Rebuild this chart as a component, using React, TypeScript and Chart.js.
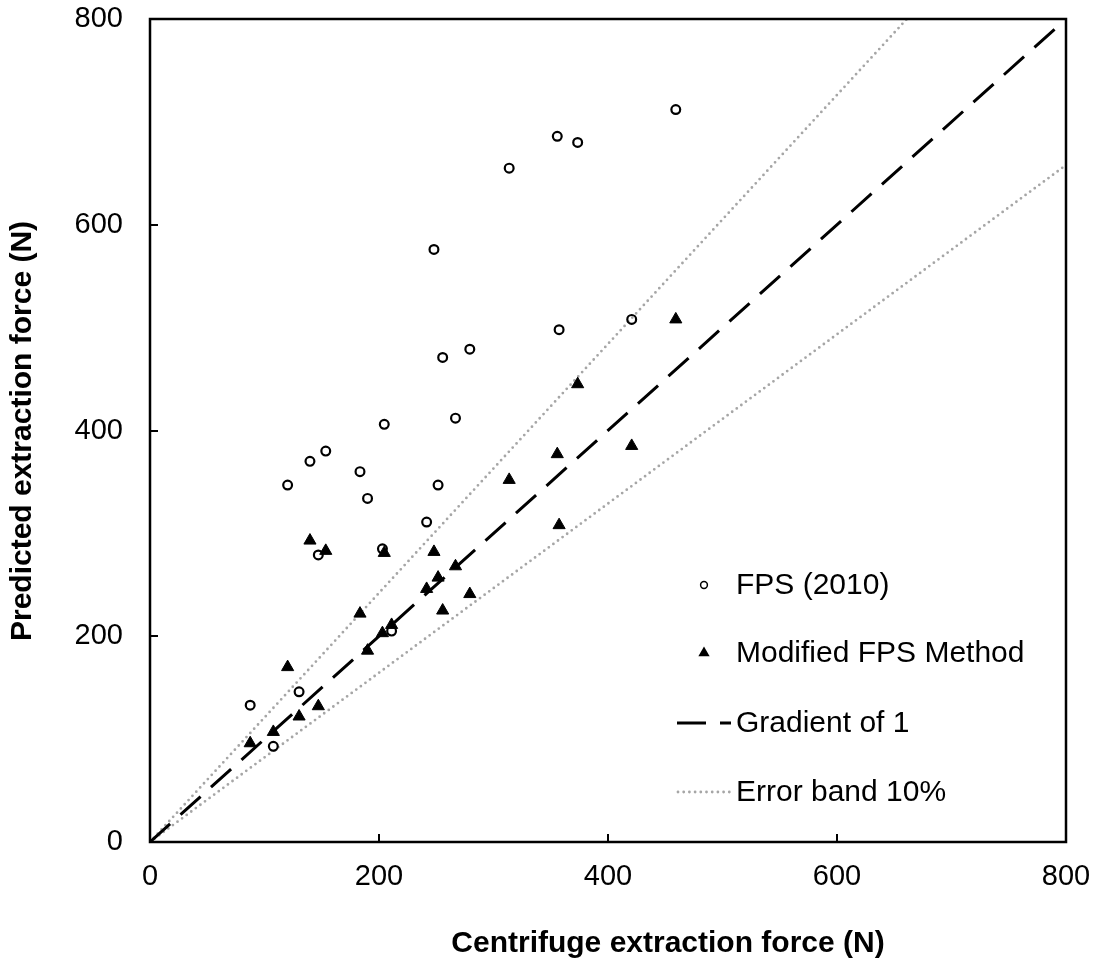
import React, { useEffect, useRef } from "react";
import { Chart, registerables } from "chart.js";

Chart.register(...registerables);

// ---- data ----
const centrifugeForce = [87.5, 107.7, 120.2, 130.2, 139.7, 147, 153.5, 183.4, 190, 203, 204.6, 211, 241.6, 248, 251.6, 255.6, 266.8, 279.3, 313.7, 355.7, 357.3, 373.5, 420.7, 459.2];
const fps2010 = [133, 93, 347, 146, 370, 279, 380, 360, 334, 285, 406, 205, 311, 576, 347, 471, 412, 479, 655, 686, 498, 680, 508, 712];
const modifiedFps = [96, 107, 170, 122, 293, 132, 283, 222, 186, 203, 281, 211, 246, 282, 257, 225, 268, 241, 352, 377, 308, 445, 385, 508];
const gradientLineX = [0, 800];
const gradientLineY = [0, 800];
const upperBandX = [0, 661];
const upperBandY = [0, 800];
const lowerBandX = [0, 800];
const lowerBandY = [0, 658];
const xTickValues = [0, 200, 400, 600, 800];
const yTickValues = [0, 200, 400, 600, 800];
const legendLabels = ["FPS (2010)", "Modified FPS Method", "Gradient of 1", "Error band 10%"];
const xTitle = "Centrifuge extraction force (N)";
const yTitle = "Predicted extraction force (N)";

const FONT = "'Liberation Sans', Arial, Helvetica, sans-serif";
const GREY = "#a6a6a6";

const zip = (xs: number[], ys: number[]) => xs.map((x, i) => ({ x, y: ys[i] }));

const framePlugin = {
  id: "frame",
  afterDraw(chart: any) {
    const { ctx, chartArea: a, scales } = chart;
    ctx.save();
    ctx.strokeStyle = "#000";
    ctx.setLineDash([]);
    // inner ticks
    ctx.lineWidth = 2;
    ctx.beginPath();
    xTickValues.forEach((v) => {
      const px = Math.round(scales.x.getPixelForValue(v));
      ctx.moveTo(px, a.bottom);
      ctx.lineTo(px, a.bottom - 8);
    });
    yTickValues.forEach((v) => {
      const py = Math.round(scales.y.getPixelForValue(v));
      ctx.moveTo(a.left, py);
      ctx.lineTo(a.left + 8, py);
    });
    ctx.stroke();
    // box
    ctx.lineWidth = 2.5;
    ctx.strokeRect(a.left, a.top, a.right - a.left, a.bottom - a.top);

    // axis titles
    ctx.fillStyle = "#000";
    ctx.font = `bold 30px ${FONT}`;
    ctx.textAlign = "center";
    ctx.textBaseline = "middle";
    ctx.fillText(xTitle, a.left + 518, a.bottom + 102);
    ctx.translate(23, a.top + 412);
    ctx.rotate(-Math.PI / 2);
    ctx.fillText(yTitle, 0, 0);
    ctx.restore();
  },
};

const legendPlugin = {
  id: "customLegend",
  afterDraw(chart: any) {
    const { ctx, chartArea: a } = chart;
    const mx = a.left + 554; // marker centre
    const tx = a.left + 586; // text start
    const rows = [a.top + 566, a.top + 634, a.top + 704, a.top + 773];
    ctx.save();
    // circle
    ctx.beginPath();
    ctx.lineWidth = 1.5;
    ctx.strokeStyle = "#000";
    ctx.arc(mx, rows[0], 3.4, 0, Math.PI * 2);
    ctx.stroke();
    // triangle
    const r = 6.5;
    ctx.beginPath();
    ctx.fillStyle = "#000";
    ctx.moveTo(mx, rows[1] - r);
    ctx.lineTo(mx + r * Math.sin((2 * Math.PI) / 3), rows[1] - r * Math.cos((2 * Math.PI) / 3));
    ctx.lineTo(mx + r * Math.sin((4 * Math.PI) / 3), rows[1] - r * Math.cos((4 * Math.PI) / 3));
    ctx.closePath();
    ctx.fill();
    // dashed line
    ctx.beginPath();
    ctx.lineWidth = 3;
    ctx.setLineDash([29, 14]);
    ctx.moveTo(mx - 27, rows[2]);
    ctx.lineTo(tx - 5, rows[2]);
    ctx.stroke();
    // dotted line
    ctx.beginPath();
    ctx.lineWidth = 2.8;
    ctx.strokeStyle = GREY;
    ctx.lineCap = "round";
    ctx.setLineDash([0, 5.7]);
    ctx.moveTo(mx - 26, rows[3]);
    ctx.lineTo(tx - 6, rows[3]);
    ctx.stroke();
    ctx.setLineDash([]);
    // text
    ctx.fillStyle = "#000";
    ctx.font = `30px ${FONT}`;
    ctx.textAlign = "left";
    ctx.textBaseline = "middle";
    legendLabels.forEach((t, i) => ctx.fillText(t, tx, rows[i] + 1));
    ctx.restore();
  },
};

export default function App() {
  const ref = useRef<HTMLCanvasElement | null>(null);

  useEffect(() => {
    if (!ref.current) return;
    const chart = new Chart(ref.current, {
      type: "scatter",
      data: {
        datasets: [
          {
            label: legendLabels[0],
            data: zip(centrifugeForce, fps2010),
            pointStyle: "circle",
            pointRadius: 4.4,
            pointBorderWidth: 2.2,
            pointBorderColor: "#000",
            pointBackgroundColor: "rgba(0,0,0,0)",
            showLine: false,
          },
          {
            label: legendLabels[1],
            data: zip(centrifugeForce, modifiedFps),
            pointStyle: "triangle",
            pointRadius: 7,
            pointBorderWidth: 1,
            pointBorderColor: "#000",
            pointBackgroundColor: "#000",
            showLine: false,
          },
          {
            label: legendLabels[2],
            data: zip(gradientLineX, gradientLineY),
            showLine: true,
            pointRadius: 0,
            borderColor: "#000",
            borderWidth: 3,
            borderDash: [27, 14],
            borderCapStyle: "butt",
          },
          {
            label: legendLabels[3],
            data: zip(upperBandX, upperBandY),
            showLine: true,
            pointRadius: 0,
            borderColor: GREY,
            borderWidth: 2.8,
            borderDash: [0, 5.7],
            borderCapStyle: "round",
          },
          {
            label: legendLabels[3] + " (lower)",
            data: zip(lowerBandX, lowerBandY),
            showLine: true,
            pointRadius: 0,
            borderColor: GREY,
            borderWidth: 2.8,
            borderDash: [0, 5.7],
            borderCapStyle: "round",
          },
        ],
      },
      options: {
        animation: false,
        responsive: false,
        devicePixelRatio: 1,
        layout: { padding: { left: 0, top: 19, right: 35, bottom: 0 } },
        plugins: {
          legend: { display: false },
          tooltip: { enabled: false },
        },
        scales: {
          x: {
            type: "linear",
            min: 0,
            max: 800,
            grid: { display: false, drawTicks: false },
            border: { display: false },
            afterBuildTicks: (s: any) => {
              s.ticks = xTickValues.map((v) => ({ value: v }));
            },
            afterFit: (s: any) => {
              s.height = 123;
              s.paddingLeft = 0;
              s.paddingRight = 0;
            },
            ticks: {
              color: "#000",
              font: { family: FONT, size: 29 },
              padding: 18,
              maxRotation: 0,
              autoSkip: false,
            },
            title: { display: false, text: xTitle },
          },
          y: {
            type: "linear",
            min: 0,
            max: 800,
            grid: { display: false, drawTicks: false },
            border: { display: false },
            afterBuildTicks: (s: any) => {
              s.ticks = yTickValues.map((v) => ({ value: v }));
            },
            afterFit: (s: any) => {
              s.width = 150;
              s.paddingTop = 0;
              s.paddingBottom = 0;
            },
            ticks: {
              color: "#000",
              font: { family: FONT, size: 29 },
              padding: 27,
              autoSkip: false,
            },
            title: { display: false, text: yTitle },
          },
        },
      },
      plugins: [framePlugin, legendPlugin],
    } as any);
    return () => chart.destroy();
  }, []);

  return (
    <div style={{ position: "absolute", left: 0, top: 0, width: 1101, height: 965, background: "#fff" }}>
      <canvas ref={ref} width={1101} height={965} style={{ display: "block" }} />
    </div>
  );
}
